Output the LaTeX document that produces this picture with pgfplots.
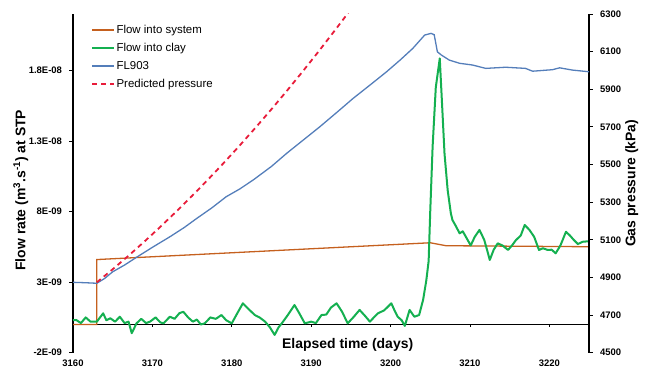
\documentclass[border=0pt]{standalone}
\usepackage{pgfplots}
\pgfplotsset{compat=1.18}
\usepackage{fontspec}
\setmainfont{Liberation Sans}
\definecolor{cbrown}{RGB}{197,96,30}
\definecolor{cgreen}{RGB}{20,176,80}
\definecolor{cblue}{RGB}{84,126,186}
\definecolor{cred}{RGB}{232,28,58}
\pgfplotsset{
  myaxis/.style={
    scale only axis, width=516bp, height=338.7bp,
    xmin=3160, xmax=3225,
    /pgf/number format/assume math mode=true,
    tick align=outside, major tick length=3.5bp,
    tick style={black, line width=0.8bp},
    ticklabel style={font=\fontsize{9.5}{11}\selectfont\bfseries},
    label style={font=\fontsize{14}{16}\selectfont\bfseries},
    axis line style={-, black, line width=1.3bp},
  }
}
\begin{document}
\begin{tikzpicture}
% flow values in units of 1E-09 m3/s
\begin{axis}[myaxis, name=ax,
  ymin=-2, ymax=22,
  axis y line*=left, axis x line*=bottom,
  x axis line style={draw=none},
  xtick={3160,3170,3180,3190,3200,3210,3220},
  xticklabels={3160,3170,3180,3190,3200,3210,3220},
  xtick style={draw=none},
  xticklabel style={yshift=-0.5bp},
  ytick={-2,3,8,13,18},
  yticklabels={-2E-09,3E-09,8E-09,1.3E-08,1.8E-08},
  yticklabel style={xshift=-4bp},
  ylabel={Flow rate (m\textsuperscript{3}.s\textsuperscript{-1}) at STP},
  ylabel style={at={(axis description cs:-0.101,0.48)}, anchor=center},
  clip=false,
]
\draw[black, line width=1.2bp] (axis cs:3160,0) -- (axis cs:3225,0);
\draw[black, line width=0.8bp] (axis cs:3170,0) -- (axis cs:3170,-0.18);
\draw[black, line width=0.8bp] (axis cs:3180,0) -- (axis cs:3180,-0.18);
\draw[black, line width=0.8bp] (axis cs:3190,0) -- (axis cs:3190,-0.18);
\draw[black, line width=0.8bp] (axis cs:3200,0) -- (axis cs:3200,-0.18);
\draw[black, line width=0.8bp] (axis cs:3210,0) -- (axis cs:3210,-0.18);
\draw[black, line width=0.8bp] (axis cs:3220,0) -- (axis cs:3220,-0.18);
\node[font=\fontsize{14}{16}\selectfont\bfseries] at (axis cs:3194.6,-1.45) {Elapsed time (days)};
% Flow into system
\addplot[cbrown, line width=1.3bp] coordinates {
(3160,0) (3163,0) (3163,4.6) (3205,5.79) (3207,5.58) (3225,5.51)
};
% Flow into clay
\addplot[cgreen, line width=2bp, line join=round] coordinates {
(3160,0.3) (3160.4,0.32) (3161,0.1) (3161.6,0.5) (3162.2,0.2) (3163,0.2)
(3163.8,0.79) (3164.2,0.3) (3164.7,0.44) (3165.3,0.2) (3165.9,0.55) (3166.5,0.1)
(3167,0.2) (3167.4,-0.62) (3168,0.08) (3168.6,0.4) (3169.2,0.1) (3169.7,0.2)
(3170.4,0.5) (3171,0.15) (3171.4,0.08) (3172.2,0.55) (3172.8,0.4) (3173.4,0.8)
(3173.9,0.9) (3174.5,0.5) (3175.1,0.2) (3175.6,0.35) (3176.1,0.0) (3176.6,0.08)
(3177.3,0.5) (3178,0.4) (3178.7,0.67) (3179.3,0.3) (3180,0.08) (3180.7,0.8)
(3181.4,1.5) (3182.1,1.1) (3182.9,0.67) (3183.5,0.5) (3184.2,0.2) (3184.8,-0.2)
(3185.4,-0.74) (3185.9,-0.2) (3186.3,0.08) (3187.1,0.7) (3187.9,1.38) (3188.5,0.8)
(3189.2,0.08) (3190,0.2) (3190.6,0.1) (3191.3,0.67) (3191.9,0.7) (3192.5,1.2)
(3193.2,1.5) (3193.9,0.9) (3194.6,0.08) (3195.3,0.5) (3196.1,1.03) (3196.8,0.6)
(3197.4,0.2) (3197.9,0.5) (3198.4,0.79) (3199.2,1.0) (3200.1,1.5) (3200.5,1.0)
(3200.9,0.55) (3201.4,0.3) (3201.8,-0.1) (3202.4,1.03) (3203,0.55) (3203.6,0.67)
(3204.1,1.74) (3204.5,3.1) (3204.8,4.5) (3205.0,8.0) (3205.3,12.6) (3205.7,16.8)
(3206.2,18.85) (3206.5,15.5) (3206.8,12.1) (3207.2,9.5) (3207.6,7.87) (3207.8,7.4)
(3208.2,7.0) (3208.7,6.46) (3209.1,6.6) (3209.5,6.2) (3210.1,5.6) (3210.6,6.2)
(3211.2,6.7) (3211.8,6.0) (3212.2,5.2) (3212.5,4.57) (3213,5.3) (3213.5,5.75)
(3214.1,5.6) (3214.8,5.28) (3215.3,5.6) (3215.8,5.98) (3216.4,6.3) (3216.9,7.05)
(3217.5,6.7) (3218.1,6.2) (3218.7,5.28) (3219.2,5.4) (3219.8,5.28) (3220.3,5.3)
(3220.8,5.04) (3221.4,5.6) (3222.1,6.57) (3222.6,6.3) (3223.1,5.98) (3223.6,5.7)
(3224.2,5.86) (3225,5.9)
};
\end{axis}
\begin{axis}[myaxis,
  ymin=4500, ymax=6300,
  axis y line*=right, axis x line=none,
  ytick={4500,4700,...,6300},
  /pgf/number format/set thousands separator={},
  yticklabel style={xshift=4bp},
  ylabel={Gas pressure (kPa)},
  ylabel style={at={(axis description cs:1.083,0.5)}, anchor=center},
  legend cell align=left,
  legend image code/.code={\draw[#1] (0bp,0bp) -- (22bp,0bp);},
  legend style={draw=none, fill=none, at={(rel axis cs:0.035,0.978)}, anchor=north west,
    font=\fontsize{11.5}{13}\selectfont, inner sep=0pt, row sep=1.5bp,
    nodes={inner sep=1.5bp, text height=10bp, text depth=3.5bp}},
]
\addlegendimage{draw=cbrown, line width=1.3bp}
\addlegendentry{Flow into system}
\addlegendimage{draw=cgreen, line width=1.3bp}
\addlegendentry{Flow into clay}
% FL903
\addplot[draw=cblue, line width=1.3bp] coordinates {
(3160,4874) (3161.5,4872) (3163,4869) (3164,4895) (3165,4930) (3166.5,4966) (3168,5007)
(3170,5060) (3172.2,5116) (3174,5165) (3175.6,5214) (3177.5,5270) (3179.3,5329) (3181,5370)
(3182.7,5418) (3185,5490) (3186.9,5559) (3189,5630) (3191.1,5701) (3193.2,5776) (3195.3,5852)
(3197.4,5922) (3199.5,5993) (3201.2,6055) (3202.8,6117) (3204.3,6188) (3205.1,6197) (3205.5,6190)
(3205.9,6099) (3206.4,6082) (3207.4,6055) (3208.7,6038) (3210.3,6029) (3212,6011) (3214.5,6017)
(3217,6011) (3217.9,5996) (3220.4,6004) (3221.3,6014) (3222.9,6002) (3225,5993)
};
\addlegendentry{FL903}
% Predicted pressure
\addplot[draw=cred, line width=1.8bp, dash pattern=on 5bp off 4bp] coordinates {
(3163,4874) (3165,4943.5) (3167,5015.7) (3169,5090.9) (3171,5168.9) (3173,5249.6) (3175,5333.3)
(3177,5419.7) (3179,5509.0) (3181,5601.2) (3183,5696.2) (3185,5794.0) (3187,5894.6) (3189,5998.1)
(3191,6104.4) (3193,6213.6) (3194,6269.2) (3195,6325.5)
};
\addlegendentry{Predicted pressure}
\end{axis}
\pgfresetboundingbox
\path ([xshift=-73bp,yshift=-15.3bp]ax.south west) rectangle ([xshift=56bp,yshift=14bp]ax.north east);
\end{tikzpicture}
\end{document}
